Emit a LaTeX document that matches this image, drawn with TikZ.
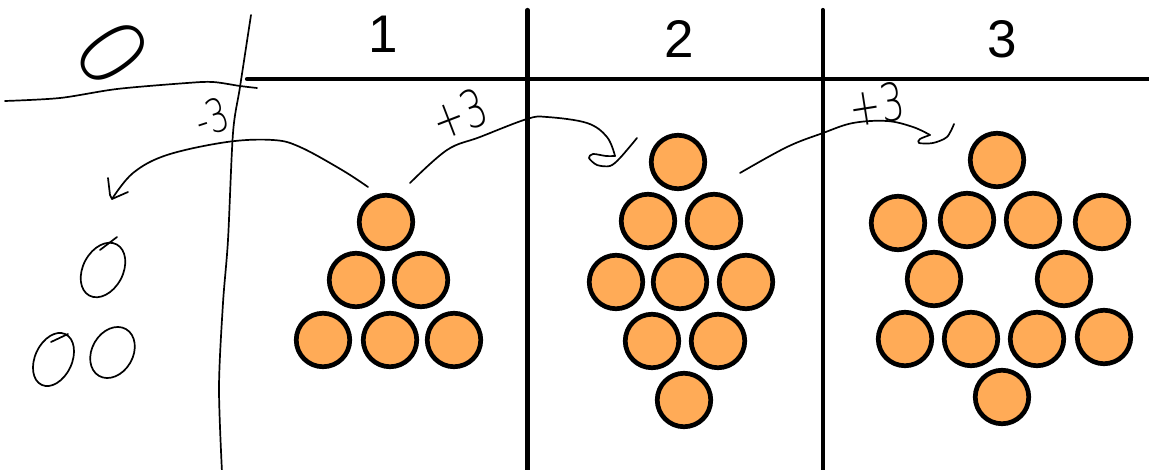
\documentclass[tikz,border=0pt]{standalone}
\usepackage{graphicx}
\usepackage{fontspec}
\setmainfont{Liberation Sans}
\IfFontExistsTF{DejaVuSans-ExtraLight.ttf}
  {\newfontfamily\handfont{DejaVuSans-ExtraLight.ttf}}
  {\IfFontExistsTF{FiraSans-Thin.ttf}
    {\newfontfamily\handfont{FiraSans-Thin.ttf}}
    {\IfFontExistsTF{Lato-Thin.ttf}
      {\newfontfamily\handfont{Lato-Thin.ttf}}
      {\newfontfamily\handfont{Liberation Sans}}}}
\newcommand\narrowtext[1]{\scalebox{0.72}[1]{#1}}
\definecolor{ballfill}{RGB}{255,171,87}
\begin{document}
\begin{tikzpicture}[x=1pt,y=-1pt,
  ball/.style={circle,draw=black,line width=4.7pt,fill=ballfill,inner sep=0pt,minimum size=53.5pt},
  gridline/.style={line width=4.2pt,line cap=round},
  hand/.style={line width=1.7pt,line cap=round,line join=round},
  head/.style={font=\fontsize{53}{53}\selectfont,inner sep=0pt,anchor=base},
  handtext/.style={font=\handfont\fontsize{52}{52}\selectfont,inner sep=0pt}]
\path[use as bounding box] (0,0) rectangle (1149,470);

% table grid
\coordinate (hl) at (247,79);
\coordinate (hr) at (1152,79);
\coordinate (v1t) at (527.5,10);
\coordinate (v1b) at (527.5,474);
\coordinate (v2t) at (822.7,10);
\coordinate (v2b) at (822.7,474);
\draw[gridline] (hl) -- (hr);
\draw[gridline] (v1t) -- (v1b);
\draw[gridline] (v2t) -- (v2b);

% headers
\node[head] (h1) at (383,53) {1};
\node[head] (h2) at (679,58) {2};
\node[head] (h3) at (1002,58) {3};

% handwritten header zero and lines
\node[font=\handfont\fontsize{92}{92}\selectfont,inner sep=0pt,rotate=-55] (h0) at (113,53) {\scalebox{0.95}[1]{0}};
\draw[hand] plot[smooth,tension=0.5] coordinates {(5,101) (60,98) (117,89) (187,83) (213,82) (240,86) (257,88)};
\draw[hand] plot[smooth,tension=0.5] coordinates {(251,15) (240,87) (233,133) (228,240) (223,303) (219,387) (222,472)};

% stage 0 counters
\draw[hand,rotate around={62:(103,270)}] (103,270) ellipse [x radius=29,y radius=20];
\draw[hand] (100,250) -- (117,237);
\draw[hand,rotate around={65:(53.5,359.5)}] (53.5,359.5) ellipse [x radius=28,y radius=18.5];
\draw[hand] (51,342) -- (68,334);
\draw[hand,rotate around={60:(112.5,352.5)}] (112.5,352.5) ellipse [x radius=27,y radius=20.5];

% stage 1
\node[ball] (a1) at (386,222) {};
\node[ball] (a2) at (356,280) {};
\node[ball] (a3) at (421,280) {};
\node[ball] (a4) at (323,340) {};
\node[ball] (a5) at (390,340) {};
\node[ball] (a6) at (454,340) {};

% stage 2
\node[ball] (b1) at (678,162) {};
\node[ball] (b2) at (648,221) {};
\node[ball] (b3) at (714,221) {};
\node[ball] (b4) at (616,282) {};
\node[ball] (b5) at (680,282) {};
\node[ball] (b6) at (746,282) {};
\node[ball] (b7) at (652,341) {};
\node[ball] (b8) at (718,341) {};
\node[ball] (b9) at (684,400) {};

% stage 3
\node[ball] (c1) at (997,160) {};
\node[ball] (c2) at (898,223) {};
\node[ball] (c3) at (967,220) {};
\node[ball] (c4) at (1033,220) {};
\node[ball] (c5) at (1102,222) {};
\node[ball] (c6) at (934,279) {};
\node[ball] (c7) at (1064,279) {};
\node[ball] (c8) at (905,339) {};
\node[ball] (c9) at (971,339) {};
\node[ball] (c10) at (1037,339) {};
\node[ball] (c11) at (1104,337) {};
\node[ball] (c12) at (1002,397) {};

% arrow -3
\coordinate (s0) at (368,187);
\coordinate (e0) at (112,199);
\draw[hand] plot[smooth,tension=0.6] coordinates {(s0) (342,170) (300,147) (273,140) (227,142) (167,155) (133,173) (e0)};
\draw[hand] (108,178) -- (110,195) -- (e0) -- (128,192);
\node[handtext,font=\handfont\fontsize{46}{46}\selectfont,rotate=18] (l0) at (212,117) {\narrowtext{-3}};

% arrow +3 (1 to 2)
\coordinate (s1) at (410,183);
\coordinate (k1) at (615,156);
\coordinate (e1) at (637,138);
\draw[hand] plot[smooth,tension=0.6] coordinates {(s1) (447,150) (480,137) (527,119) (547,117) (587,123) (607,137) (k1)};
\draw[hand] plot[smooth,tension=0.5] coordinates {(k1) (606,156) (593,154) (589,158) (597,165) (610,166) (620,158) (e1)};
\node[handtext,rotate=21] (l1) at (459,114) {\narrowtext{+3}};

% arrow +3 (2 to 3)
\coordinate (s2) at (740,173);
\coordinate (k2) at (930,135);
\coordinate (e2) at (954,124);
\draw[hand] plot[smooth,tension=0.6] coordinates {(s2) (787,147) (823,133) (853,123) (887,121) (913,127) (k2)};
\draw[hand] plot[smooth,tension=0.5] coordinates {(k2) (920,139) (919,143) (933,143) (947,137) (e2)};
\node[handtext,rotate=9] (l2) at (877,104) {\narrowtext{+3}};
\end{tikzpicture}
\end{document}
